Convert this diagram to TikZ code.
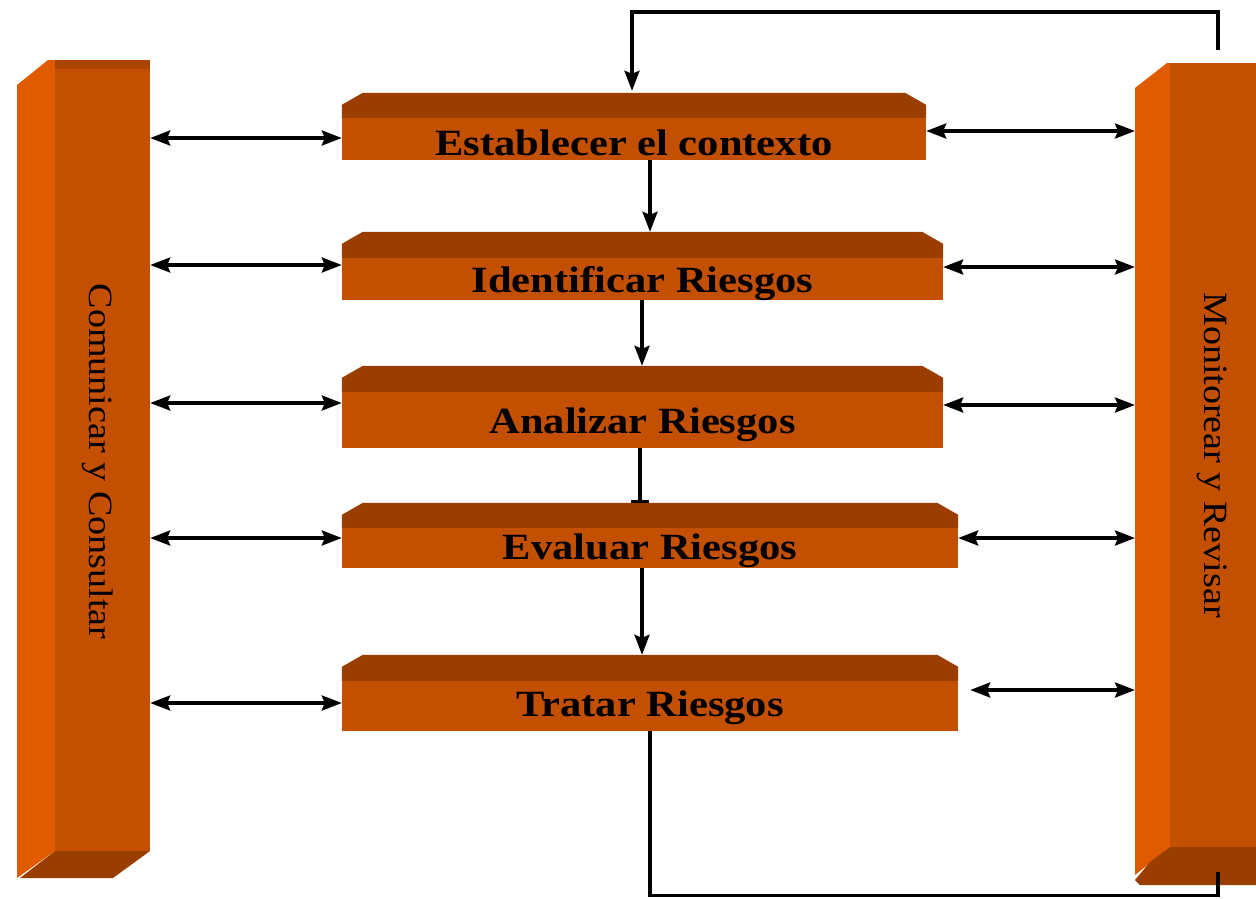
\documentclass[tikz,border=0pt]{standalone}
\usepackage{fontspec}
\setmainfont{Liberation Serif}
\usetikzlibrary{arrows.meta,calc}
\definecolor{front}{RGB}{194,80,0}
\definecolor{topc}{RGB}{154,62,0}
\definecolor{side}{RGB}{224,90,0}
\tikzset{
  stepbox/.style={fill=front, draw=none, inner sep=0pt},
  steptext/.style={inner sep=0pt, font=\fontsize{37}{40}\selectfont\bfseries},
  barbox/.style={fill=front, draw=none, inner sep=0pt},
  conn/.style={line width=3.2pt, black},
  dbl/.style={conn, {Stealth[length=20pt,width=15pt,inset=3pt]}-{Stealth[length=20pt,width=15pt,inset=3pt]}},
  one/.style={conn, -{Stealth[length=20pt,width=15pt,inset=3pt]}},
  tee/.style={conn, -{Bar[width=18pt,line width=3.2pt]}},
  barlabel/.style={font=\fontsize{34}{36}\selectfont, rotate=-90}
}
\newcommand{\stepface}[2]{%
  \fill[topc] (#1.north west) -- ($(#1.north west)+(0,-#2+12)$) -- ($(#1.north west)+(21,-#2)$)
    -- ($(#1.north east)+(-21,-#2)$) -- ($(#1.north east)+(0,-#2+12)$) -- (#1.north east) -- cycle;}
\begin{document}
\begin{tikzpicture}[x=1pt,y=-1pt]
\useasboundingbox (0,0) rectangle (1256,898);
% left bar
\node[barbox, minimum width=95, minimum height=791] (L) at (102.5,455.5) {};
\fill[side] (17,85) -- (48,60) -- (55,60) -- (55,851) -- (17,878) -- cycle;
\fill[topc] (55,851) -- (150,851) -- (113,878) -- (20,878) -- cycle;
\fill[topc!60!front] (55,60) rectangle (150,69);
\node[barlabel] (Llab) at ($(L.center)+(-5,6)$) {\scalebox{1.12}[1]{Comunicar y Consultar}};
% right bar
\node[barbox, minimum width=86, minimum height=784] (R) at (1213,455) {};
\fill[side] (1135,88) -- (1167,63) -- (1170,63) -- (1170,847) -- (1135,875) -- cycle;
\fill[topc] (1170,847) -- (1256,847) -- (1256,885) -- (1240,885) -- (1140,885) -- (1135,880) -- (1150,862) -- cycle;
\coordinate (Rl) at (1135,455);
\node[barlabel] (Rlab) at ($(R.center)+(-1,0)$) {\scalebox{1.12}[1]{Monitorear y Revisar}};
% steps
\node[stepbox, minimum width=584, minimum height=42] (b1) at (634,139) {};
\stepface{b1}{25}
\node[steptext] (t1) at ($(b1.center)+(0,4)$) {\scalebox{1.15}[1]{Establecer el contexto}};
\node[stepbox, minimum width=601, minimum height=42] (b2) at (642.5,279) {};
\stepface{b2}{26}
\node[steptext] (t2) at ($(b2.center)+(0,5)$) {\scalebox{1.15}[1]{Identificar Riesgos}};
\node[stepbox, minimum width=601, minimum height=56] (b3) at (642.5,420) {};
\stepface{b3}{26}
\node[steptext] (t3) at ($(b3.center)+(0,5)$) {\scalebox{1.15}[1]{Analizar Riesgos}};
\node[stepbox, minimum width=616, minimum height=40] (b4) at (650,548) {};
\stepface{b4}{25}
\node[steptext] (t4) at ($(b4.center)+(0,3)$) {\scalebox{1.15}[1]{Evaluar Riesgos}};
\node[stepbox, minimum width=616, minimum height=50] (b5) at (650,706) {};
\stepface{b5}{26}
\node[steptext] (t5) at ($(b5.center)+(0,2)$) {\scalebox{1.15}[1]{Tratar Riesgos}};
% left arrows
\draw[dbl] ($(L.east |- b1.west)+(0,-1)$) -- ($(b1.west)+(0,-1)$);
\draw[dbl] ($(L.east |- b2.west)+(0,-14)$) -- ($(b2.west)+(0,-14)$);
\draw[dbl] ($(L.east |- b3.west)+(0,-17)$) -- ($(b3.west)+(0,-17)$);
\draw[dbl] ($(L.east |- b4.west)+(0,-10)$) -- ($(b4.west)+(0,-10)$);
\draw[dbl] ($(L.east |- b5.west)+(0,-3)$) -- ($(b5.west)+(0,-3)$);
% right arrows
\draw[dbl] ($(b1.east)+(0,-8)$) -- ($(Rl |- b1.east)+(0,-8)$);
\draw[dbl] ($(b2.east)+(0,-12)$) -- ($(Rl |- b2.east)+(0,-12)$);
\draw[dbl] ($(b3.east)+(0,-15)$) -- ($(Rl |- b3.east)+(0,-15)$);
\draw[dbl] ($(b4.east)+(0,-10)$) -- ($(Rl |- b4.east)+(0,-10)$);
\draw[dbl] ($(b5.east)+(12,-16)$) -- ($(Rl |- b5.east)+(0,-16)$);
% vertical flow
\draw[one] ($(b1.south)+(16,0)$) -- ($(b2.north)+(7.5,-26)$);
\draw[one] ($(b2.south)+(-0.5,0)$) -- ($(b3.north)+(-0.5,-26)$);
\draw[tee] ($(b3.south)+(-2.5,0)$) -- ($(b4.north)+(-10,-25)$);
\draw[one] ($(b4.south)+(-8,0)$) -- ($(b5.north)+(-8,-26)$);
% feedback loops
\coordinate (c1) at (1218,50);
\draw[one] (c1) -- ++(0,-38) -| ($(b1.north)+(-2,-27)$);
\coordinate (u1) at (1218,872);
\draw[conn] (b5.south) -- ++(0,164) -| (u1);
\end{tikzpicture}
\end{document}
